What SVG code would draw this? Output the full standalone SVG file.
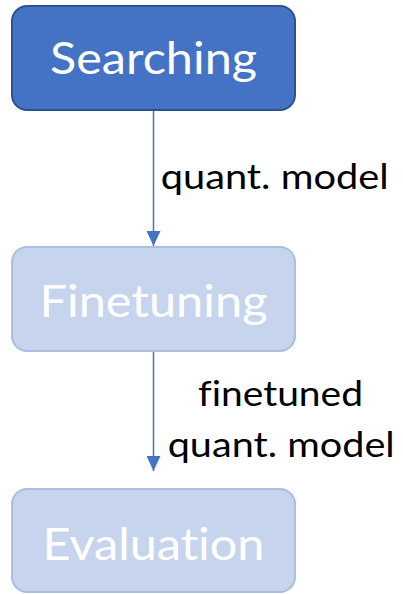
<svg xmlns="http://www.w3.org/2000/svg" width="403" height="594" viewBox="0 0 403 594">
<style>
.box{stroke-width:2}
.dark{fill:#4472C4;stroke:#2F528F}
.light{fill:#C7D4ED;stroke:#AABEE2}
text{font-variant-ligatures:none;font-feature-settings:"liga" 0,"clig" 0,"dlig" 0}
.nt{font-family:Lato,"Open Sans",sans-serif;font-size:44px;fill:#FFFFFF;text-anchor:middle}
.et{font-family:Lato,"Open Sans",sans-serif;font-size:34px;fill:#000000}
.conn{stroke:#4472C4;stroke-width:1.5;fill:none}
</style>
<defs>
<marker id="ah" markerWidth="15" markerHeight="14" refX="15" refY="7" orient="auto" markerUnits="userSpaceOnUse">
<path d="M0,0 L15,7 L0,14 Z" fill="#4472C4"/>
</marker>
</defs>
<g id="connectors">
<line class="conn" x1="153.5" y1="111" x2="153.5" y2="246" marker-end="url(#ah)"/>
<line class="conn" x1="153.5" y1="352" x2="153.5" y2="471" marker-end="url(#ah)"/>
<text class="et" x="160.7" y="189" textLength="228" lengthAdjust="spacingAndGlyphs">quant. model</text>
<text class="et" x="198" y="405.5" textLength="165" lengthAdjust="spacingAndGlyphs">finetuned</text>
<text class="et" x="167.7" y="456.5" textLength="227" lengthAdjust="spacingAndGlyphs">quant. model</text>
</g>
<g id="searching">
<rect class="box dark" x="12" y="6" width="283" height="104" rx="15"/>
<text class="nt" x="153.5" y="74" textLength="207" lengthAdjust="spacingAndGlyphs">Searching</text>
</g>
<g id="finetuning">
<rect class="box light" x="12" y="247" width="283" height="104" rx="15"/>
<text class="nt" x="153.5" y="317" textLength="228" lengthAdjust="spacingAndGlyphs">Finetuning</text>
</g>
<g id="evaluation">
<rect class="box light" x="12" y="489" width="283" height="103" rx="15"/>
<text class="nt" x="153.5" y="560" textLength="222" lengthAdjust="spacingAndGlyphs">Evaluation</text>
</g>
</svg>
